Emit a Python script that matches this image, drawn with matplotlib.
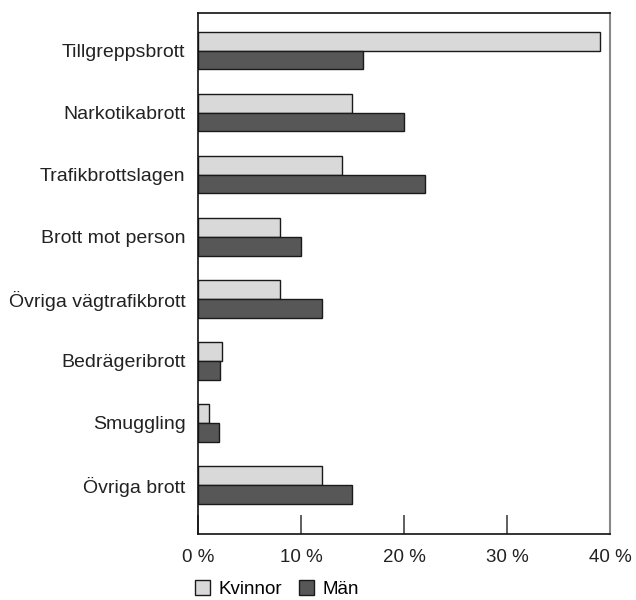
import matplotlib
matplotlib.use("Agg")
import matplotlib.pyplot as plt
import numpy as np
from matplotlib.patches import Patch

categories = ["Tillgreppsbrott", "Narkotikabrott", "Trafikbrottslagen", "Brott mot person",
              "Övriga vägtrafikbrott", "Bedrägeribrott", "Smuggling", "Övriga brott"]
kvinnor = [39, 15, 14, 8, 8, 2.3, 1.1, 12]
man = [16, 20, 22, 10, 12, 2.1, 2, 15]
xticks = [0, 10, 20, 30, 40]
xticklabels = ["0 %", "10 %", "20 %", "30 %", "40 %"]

plt.rcParams['font.family'] = ['Liberation Sans', 'DejaVu Sans']

fig = plt.figure(figsize=(6.36, 6.0), dpi=100)
ax = fig.add_axes([198/636, 1-534/600, (610-198)/636, (534-13)/600])

y = np.arange(len(categories))
h = 0.3
ax.barh(y - h/2, kvinnor, height=h, color="#d9d9d9", edgecolor="#1a1a1a", linewidth=1.0, label="Kvinnor")
ax.barh(y + h/2, man, height=h, color="#575757", edgecolor="#1a1a1a", linewidth=1.0, label="Män")

ax.set_xlim(0, 40)
ax.set_ylim(7.79, -0.61)
ax.set_yticks(y)
ax.set_yticklabels(categories, fontsize=14, color="#222222")
ax.tick_params(axis='y', length=0, pad=9)
ax.set_xticks(xticks)
ax.set_xticklabels(xticklabels, fontsize=13.5, color="#222222")
ax.tick_params(axis='x', direction='in', length=14, width=1.2, color="#444444", pad=11)

for s in ['left', 'bottom', 'top']:
    ax.spines[s].set_color("#111111")
    ax.spines[s].set_linewidth(1.2)
ax.spines['right'].set_color("#888888")
ax.spines['right'].set_linewidth(1.5)

handles = [Patch(facecolor="#d9d9d9", edgecolor="#1a1a1a", label="Kvinnor"),
           Patch(facecolor="#575757", edgecolor="#1a1a1a", label="Män")]
fig.legend(handles=handles, loc='center left', bbox_to_anchor=(195/636, 1-589/600), ncol=2,
           frameon=False, fontsize=13.5, handlelength=0.8, handleheight=0.8,
           handletextpad=0.45, columnspacing=0.9, borderpad=0, borderaxespad=0)

fig.savefig("out.png", dpi=100)
